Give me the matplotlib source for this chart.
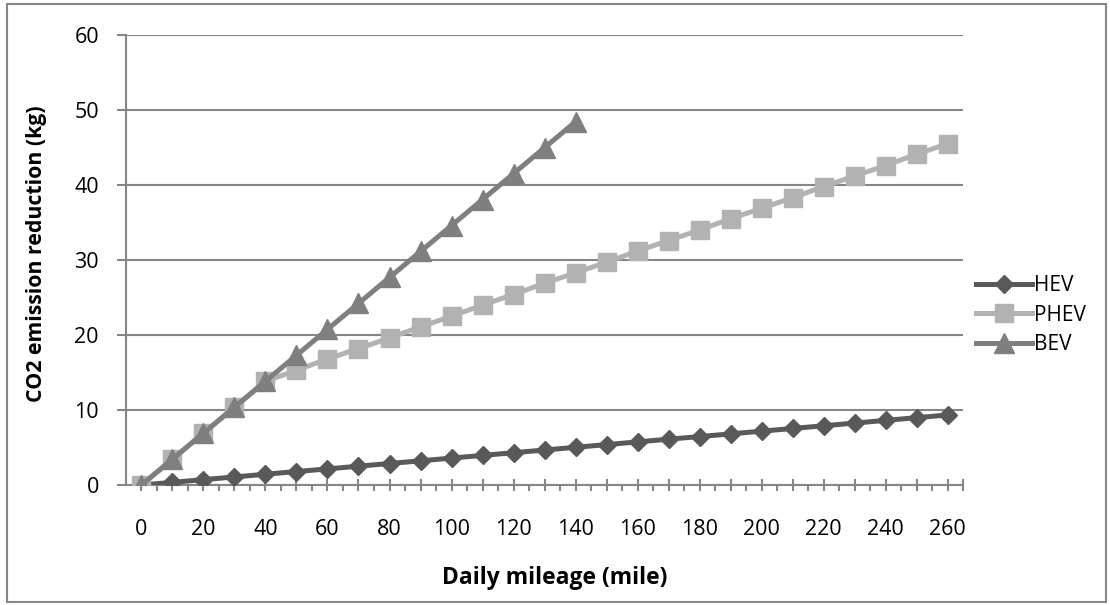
import matplotlib
matplotlib.use("Agg")
import matplotlib.pyplot as plt
from matplotlib.patches import Rectangle
from matplotlib.ticker import FixedLocator, NullFormatter

plt.rcParams['font.family'] = ['Open Sans', 'DejaVu Sans']

# Daily mileage categories (miles)
mileage = [0, 10, 20, 30, 40, 50, 60, 70, 80, 90, 100, 110, 120, 130,
           140, 150, 160, 170, 180, 190, 200, 210, 220, 230, 240, 250, 260]

# CO2 emission reduction (kg)
hev = [0.0, 0.36, 0.72, 1.08, 1.44, 1.80, 2.15, 2.51, 2.87, 3.23, 3.59,
       3.95, 4.31, 4.67, 5.03, 5.39, 5.75, 6.11, 6.46, 6.82, 7.18, 7.54,
       7.90, 8.26, 8.62, 8.98, 9.34]
phev = [0.0, 3.46, 6.92, 10.38, 13.84, 15.3, 16.8, 18.2, 19.6, 21.1, 22.5,
        24.0, 25.4, 26.9, 28.3, 29.7, 31.2, 32.6, 34.0, 35.5, 36.9, 38.3,
        39.8, 41.2, 42.6, 44.1, 45.5]
bev = [0.0, 3.46, 6.92, 10.38, 13.84, 17.3, 20.76, 24.22, 27.68, 31.14,
       34.6, 38.06, 41.52, 44.98, 48.44]

y_ticks = [0, 10, 20, 30, 40, 50, 60]

GRID = '#868686'

fig = plt.figure(figsize=(11.10, 6.05), dpi=100)
ax = fig.add_axes([0.1135, 0.1983, 0.7541, 0.7438])

idx = list(range(len(mileage)))
ax.plot(idx, hev, color='#595959', lw=3.6, marker='D', ms=9.5,
        mec='#595959', mfc='#595959', label='HEV', zorder=3)
ax.plot(idx, phev, color='#b2b2b2', lw=3.6, marker='s', ms=13,
        mec='#b2b2b2', mfc='#b2b2b2', label='PHEV', zorder=4)
ax.plot(idx[:len(bev)], bev, color='#7f7f7f', lw=3.6, marker='^', ms=15,
        mec='#7f7f7f', mfc='#7f7f7f', label='BEV', zorder=5)

ax.set_xlim(-0.5, len(mileage) - 0.5)
ax.set_ylim(0, 60)

# y axis
ax.set_yticks(y_ticks)
ax.set_yticklabels([str(v) for v in y_ticks])
ax.yaxis.grid(True, color=GRID, lw=1.5)
ax.set_axisbelow(True)
ax.tick_params(axis='y', direction='out', length=6.5, width=1.5,
               color=GRID, pad=13, labelsize=15.5)

# x axis: crossing ticks on categories, short ticks between them
major = idx + [len(mileage) - 0.5]
ax.xaxis.set_major_locator(FixedLocator(major))
labels = [str(m) if i % 2 == 0 else '' for i, m in enumerate(mileage)] + ['']
ax.set_xticklabels(labels)
ax.xaxis.set_minor_locator(FixedLocator([i + 0.5 for i in idx[:-1]]))
ax.xaxis.set_minor_formatter(NullFormatter())
ax.tick_params(axis='x', which='major', direction='inout', length=9,
               width=1.5, color=GRID, pad=20, labelsize=15.5)
ax.tick_params(axis='x', which='minor', direction='out', length=4.5,
               width=1.5, color=GRID)

for side in ('top', 'right'):
    ax.spines[side].set_visible(False)
for side in ('left', 'bottom'):
    ax.spines[side].set_color(GRID)
    ax.spines[side].set_linewidth(1.5)

fig.text(0.0329, 0.58, 'CO2 emission reduction (kg)', rotation=90,
         ha='center', va='center', fontsize=15.3, fontweight='bold')
fig.text(0.4995, 0.0446, 'Daily mileage (mile)', ha='center', va='center',
         fontsize=16.5, fontweight='bold')

ax.legend(loc='center left', bbox_to_anchor=(0.879, 0.479),
          bbox_transform=fig.transFigure, frameon=False, fontsize=15,
          handlelength=2.7, handletextpad=0.1, labelspacing=0.42,
          borderpad=0, borderaxespad=0)

fig.patches.append(Rectangle((7 / 1110, 3 / 605), 1099 / 1110, 598 / 605,
                             transform=fig.transFigure, fill=False,
                             edgecolor=GRID, lw=1.5))

fig.savefig('out.png', dpi=100)
